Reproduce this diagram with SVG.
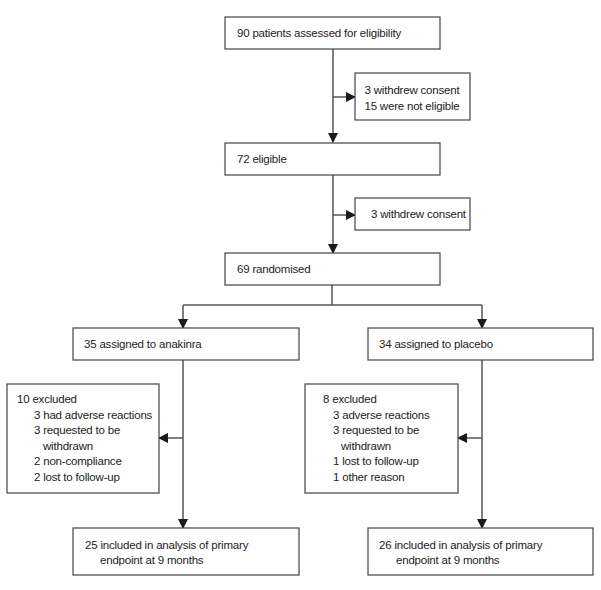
<svg xmlns="http://www.w3.org/2000/svg" width="601" height="590" viewBox="0 0 601 590">
<defs>
<marker id="ah" markerWidth="10" markerHeight="10" refX="9" refY="5" orient="auto" markerUnits="userSpaceOnUse">
<path d="M0,0 L10,5 L0,10 Z" fill="#1a1a1a"/>
</marker>
<style>
.box{fill:#fff;stroke:#444;stroke-width:1.2}
.ln{fill:none;stroke:#555;stroke-width:1.5}
.t{font-family:"Liberation Sans",Arial,sans-serif;font-size:11.5px;letter-spacing:-0.2px;fill:#222}
</style>
</defs>
<rect width="601" height="590" fill="#fff"/>
<g id="connectors">
<path class="ln" d="M333,49 V142" marker-end="url(#ah)"/>
<path class="ln" d="M333,97 H355" marker-end="url(#ah)"/>
<path class="ln" d="M333,175 V253" marker-end="url(#ah)"/>
<path class="ln" d="M333,215 H355" marker-end="url(#ah)"/>
<path class="ln" d="M332,285 V305"/>
<path class="ln" d="M183,305 H482"/>
<path class="ln" d="M183,305 V328" marker-end="url(#ah)"/>
<path class="ln" d="M482,305 V328" marker-end="url(#ah)"/>
<path class="ln" d="M183,360 V528" marker-end="url(#ah)"/>
<path class="ln" d="M183,438 H159" marker-end="url(#ah)"/>
<path class="ln" d="M482,360 V528" marker-end="url(#ah)"/>
<path class="ln" d="M482,438 H458" marker-end="url(#ah)"/>
</g>
<g id="n1"><rect class="box" x="225" y="17" width="215" height="32"/><text class="t" x="237" y="37">90 patients assessed for eligibility</text></g>
<g id="n1x"><rect class="box" x="355" y="73" width="115" height="47"/><text class="t" x="412" y="94" text-anchor="middle">3 withdrew consent</text><text class="t" x="412" y="110" text-anchor="middle">15 were not eligible</text></g>
<g id="n2"><rect class="box" x="225" y="143" width="215" height="32"/><text class="t" x="237" y="163">72 eligible</text></g>
<g id="n2x"><rect class="box" x="355" y="198" width="115" height="32"/><text class="t" x="371" y="218">3 withdrew consent</text></g>
<g id="n3"><rect class="box" x="225" y="253" width="215" height="32"/><text class="t" x="237" y="273">69 randomised</text></g>
<g id="n4"><rect class="box" x="73" y="328" width="226" height="32"/><text class="t" x="84" y="348">35 assigned to anakinra</text></g>
<g id="n5"><rect class="box" x="368" y="328" width="225" height="32"/><text class="t" x="379" y="348">34 assigned to placebo</text></g>
<g id="n4x"><rect class="box" x="7" y="384" width="152" height="109"/>
<text class="t" x="17" y="403">10 excluded</text>
<text class="t" x="34" y="419">3 had adverse reactions</text>
<text class="t" x="34" y="434">3 requested to be</text>
<text class="t" x="43" y="450">withdrawn</text>
<text class="t" x="34" y="465">2 non-compliance</text>
<text class="t" x="34" y="481">2 lost to follow-up</text></g>
<g id="n5x"><rect class="box" x="305" y="384" width="153" height="109"/>
<text class="t" x="323" y="403">8 excluded</text>
<text class="t" x="333" y="419">3 adverse reactions</text>
<text class="t" x="333" y="434">3 requested to be</text>
<text class="t" x="341" y="450">withdrawn</text>
<text class="t" x="333" y="465">1 lost to follow-up</text>
<text class="t" x="333" y="481">1 other reason</text></g>
<g id="n6"><rect class="box" x="73" y="528" width="226" height="47"/><text class="t" x="85" y="549">25 included in analysis of primary</text><text class="t" x="100" y="564">endpoint at 9 months</text></g>
<g id="n7"><rect class="box" x="368" y="528" width="225" height="47"/><text class="t" x="379" y="549">26 included in analysis of primary</text><text class="t" x="396" y="564">endpoint at 9 months</text></g>
</svg>
